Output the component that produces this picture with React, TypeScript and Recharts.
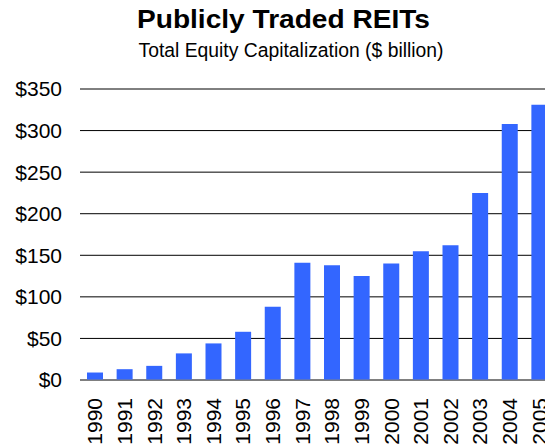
import React from "react";
import { BarChart, Bar, XAxis, YAxis, CartesianGrid } from "recharts";

// Total equity capitalization of publicly traded REITs, $ billion
const years = [
  "1990", "1991", "1992", "1993", "1994", "1995", "1996", "1997",
  "1998", "1999", "2000", "2001", "2002", "2003", "2004", "2005",
];
const capitalization = [9, 13, 17, 32, 44, 58, 88, 141, 138, 125, 140, 155, 162, 225, 308, 331];
const yTicks = [0, 50, 100, 150, 200, 250, 300, 350];

const titleText = "Publicly Traded REITs";
const subtitleText = "Total Equity Capitalization ($ billion)";

const data = years.map((year, i) => ({ year, value: capitalization[i] }));

const FONT = "Arial, 'Liberation Sans', Helvetica, sans-serif";

const YTick = (props: any) => {
  const { x, y, payload } = props;
  return (
    <text
      x={x}
      y={y}
      dy="0.355em"
      textAnchor="end"
      fontFamily={FONT}
      fontSize={21}
      fill="#000"
    >
      {`$${payload.value}`}
    </text>
  );
};

const XTick = (props: any) => {
  const { x, y, payload } = props;
  return (
    <text
      transform={`translate(${x},${y}) rotate(-90)`}
      textAnchor="end"
      dy="0.355em"
      fontFamily={FONT}
      fontSize={21}
      fill="#000"
    >
      {payload.value}
    </text>
  );
};

export default function App() {
  return (
    <div
      style={{
        position: "absolute",
        left: 0,
        top: 0,
        width: 545,
        height: 448,
        overflow: "hidden",
        background: "#fff",
      }}
    >
      <svg
        width={545}
        height={70}
        style={{ position: "absolute", left: 0, top: 0 }}
      >
        <text
          x={283.5}
          y={28}
          textAnchor="middle"
          fontFamily={FONT}
          fontWeight="bold"
          fontSize={25}
          textLength={293}
          lengthAdjust="spacingAndGlyphs"
          fill="#000"
        >
          {titleText}
        </text>
        <text
          x={291}
          y={57}
          textAnchor="middle"
          fontFamily={FONT}
          fontSize={20.5}
          textLength={305}
          lengthAdjust="spacingAndGlyphs"
          fill="#000"
        >
          {subtitleText}
        </text>
      </svg>
      <div style={{ position: "absolute", left: 0, top: 0 }}>
        <BarChart
          width={570}
          height={448}
          data={data}
          margin={{ top: 89, right: 16, bottom: 0, left: 0 }}
          barSize={16}
        >
          <CartesianGrid vertical={false} stroke="#000" strokeWidth={1} />
          <XAxis
            dataKey="year"
            interval={0}
            height={68}
            tickLine={false}
            axisLine={{ stroke: "#808080", strokeWidth: 1 }}
            tickSize={0}
            tickMargin={18}
            tick={<XTick />}
          />
          <YAxis
            width={80}
            domain={[0, 350]}
            ticks={yTicks}
            interval={0}
            axisLine={false}
            tickLine={false}
            tickSize={0}
            tickMargin={18}
            tick={<YTick />}
          />
          <Bar dataKey="value" fill="#3366FF" isAnimationActive={false} />
        </BarChart>
      </div>
    </div>
  );
}
